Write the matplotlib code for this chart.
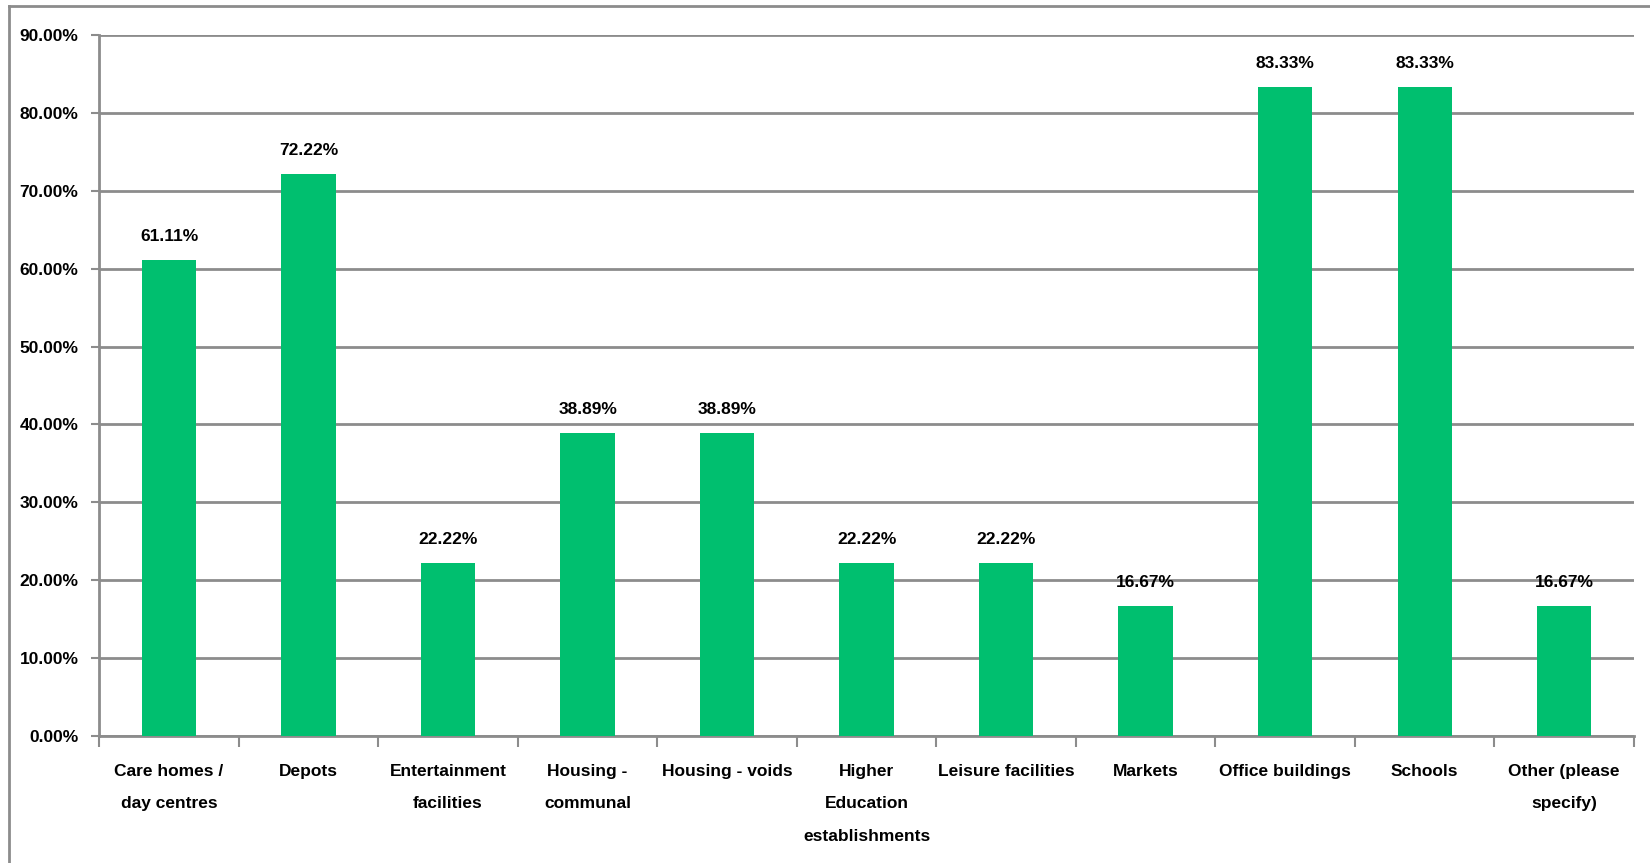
import matplotlib
matplotlib.use("Agg")
import matplotlib.pyplot as plt
from matplotlib.lines import Line2D
from matplotlib.ticker import PercentFormatter

categories = ["Care homes /\nday centres", "Depots", "Entertainment\nfacilities",
              "Housing -\ncommunal", "Housing - voids", "Higher\nEducation\nestablishments",
              "Leisure facilities", "Markets", "Office buildings", "Schools",
              "Other (please\nspecify)"]
values = [61.11, 72.22, 22.22, 38.89, 38.89, 22.22, 22.22, 16.67, 83.33, 83.33, 16.67]
y_ticks = [0, 10, 20, 30, 40, 50, 60, 70, 80, 90]

plt.rcParams['font.family'] = ['Liberation Sans', 'DejaVu Sans']
plt.rcParams['font.weight'] = 'bold'

bar_color = "#00BF6F"
grid_color = "#8C8C8C"
fs = 12.5

fig = plt.figure(figsize=(16.5, 8.63), dpi=100)
ax = fig.add_axes([0.0602, 0.1472, 0.9301, 0.8122])

x = list(range(len(categories)))
ax.bar(x, values, width=0.39, color=bar_color, zorder=3)

# data labels above each bar
for xi, v in zip(x, values):
    ax.annotate(f"{v:.2f}%", (xi, v), xytext=(0, 11.5), textcoords="offset points",
                ha="center", va="bottom", fontsize=fs, fontweight="bold")

ax.set_xlim(-0.5, len(categories) - 0.5)
ax.set_ylim(0, 90)
ax.set_yticks(y_ticks)
ax.yaxis.set_major_formatter(PercentFormatter(decimals=2))
ax.yaxis.grid(True, color=grid_color, linewidth=2, zorder=0)

ax.set_xticks(x)
ax.set_xticklabels(categories, fontsize=fs, fontweight="bold", linespacing=2.45)
ax.set_xticks([i - 0.5 for i in range(len(categories) + 1)], minor=True)
ax.tick_params(axis="x", which="major", length=0, pad=20)
ax.tick_params(axis="x", which="minor", length=8, width=1.5, color=grid_color)
ax.tick_params(axis="y", length=6, width=1.5, color=grid_color, pad=9, labelsize=fs)
for lab in ax.get_yticklabels():
    lab.set_fontweight("bold")

for side in ["top", "right"]:
    ax.spines[side].set_visible(False)
for side in ["left", "bottom"]:
    ax.spines[side].set_color(grid_color)
    ax.spines[side].set_linewidth(2)

# outer chart border (left and top only visible)
fig.add_artist(Line2D([9 / 1650, 9 / 1650], [0, 1 - 6 / 863], color=grid_color, linewidth=2))
fig.add_artist(Line2D([9 / 1650, 1], [1 - 6 / 863, 1 - 6 / 863], color=grid_color, linewidth=2))

fig.savefig("out.png", dpi=100)
